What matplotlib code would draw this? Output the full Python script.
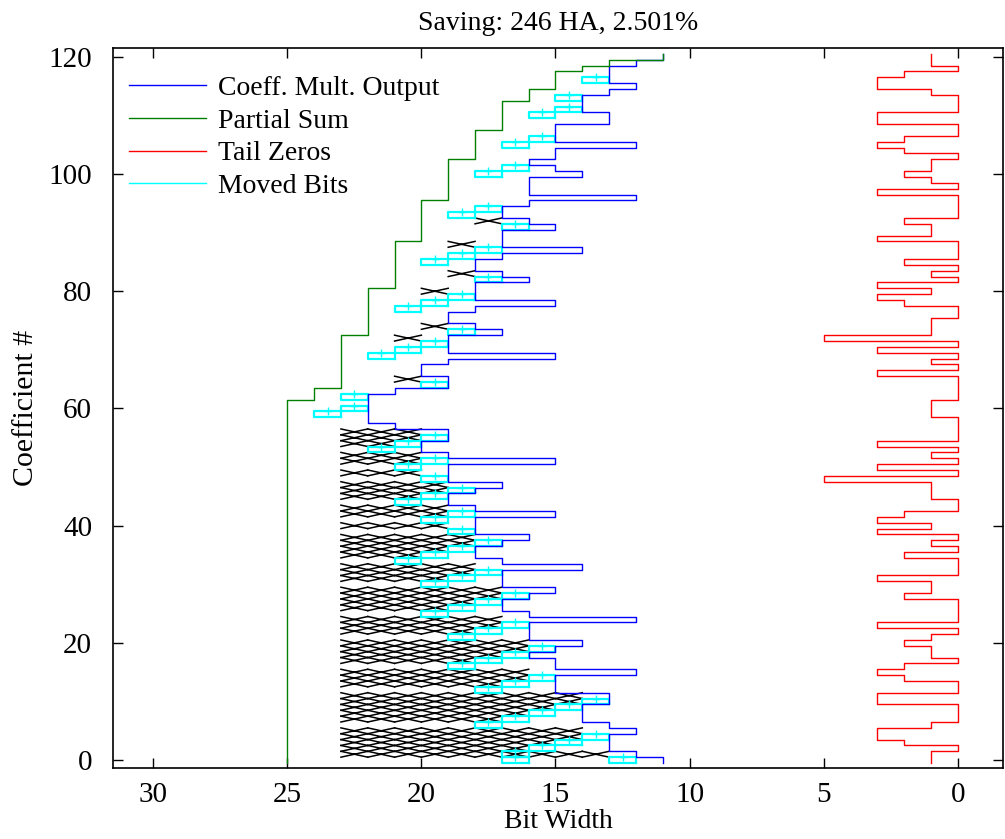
import numpy as np
import matplotlib
matplotlib.use("Agg")
import matplotlib.pyplot as plt
from matplotlib.lines import Line2D

# ---------------- data ----------------
coef = list(range(121))

tail_zeros = [1, 1, 0, 2, 3, 3, 1, 0, 0, 0,
              3, 3, 0, 0, 2, 3, 2, 0, 1, 1,
              2, 1, 0, 3, 0, 0, 0, 0, 2, 1,
              1, 3, 0, 0, 0, 2, 0, 1, 0, 3,
              1, 3, 2, 0, 0, 1, 1, 1, 5, 0,
              3, 0, 1, 0, 3, 0, 0, 0, 0, 1,
              1, 1, 0, 0, 0, 0, 3, 0, 1, 0,
              3, 0, 5, 1, 1, 1, 0, 0, 2, 3,
              1, 3, 0, 1, 0, 2, 0, 0, 0, 3,
              1, 1, 2, 0, 0, 0, 0, 3, 0, 1,
              2, 1, 1, 0, 2, 3, 2, 0, 0, 3,
              3, 0, 0, 0, 1, 3, 3, 2, 0, 1,
              1]

mult_width = [11, 12, 13, 13, 13, 12, 13, 14, 14, 14,
              13, 13, 15, 15, 15, 12, 15, 15, 16, 15,
              14, 16, 16, 16, 12, 16, 17, 17, 16, 15,
              17, 17, 17, 14, 17, 18, 18, 17, 16, 18,
              18, 18, 15, 18, 19, 19, 18, 17, 19, 19,
              19, 15, 19, 20, 20, 19, 19, 21, 22, 22,
              22, 22, 22, 21, 19, 19, 20, 20, 19, 15,
              19, 19, 19, 17, 18, 19, 19, 18, 15, 18,
              18, 18, 16, 17, 18, 18, 17, 14, 17, 17,
              17, 15, 16, 17, 17, 16, 12, 16, 16, 16,
              14, 15, 16, 15, 15, 12, 15, 15, 15, 13,
              13, 14, 14, 14, 13, 12, 13, 13, 13, 12,
              11]

partial_sum = [25] * 62 + [24, 24] + [23] * 9 + [22] * 8 + [21] * 8 + \
              [20] * 7 + [19] * 7 + [18] * 5 + [17] * 5 + [16] * 2 + \
              [15] * 3 + [14, 13, 11]

# moved bits: (coefficient row, bit position)
moved_k = [116, 113, 111, 110, 106, 105, 101, 100, 94, 93, 91, 87, 86, 85, 82,
           79, 78, 77, 73, 71, 70, 69, 64, 62, 60, 59,
           55, 54, 53, 51, 50, 48, 46, 45, 44, 42, 41, 39, 37, 36, 35, 34,
           32, 31, 30, 28, 27, 26, 25, 23, 22, 21, 19, 18, 17, 16, 14, 13, 12,
           10, 9, 8, 7, 6, 4, 3, 2, 1, 0, 0]
moved_b = [13, 14, 14, 15, 15, 16, 16, 17, 17, 18, 16, 17, 18, 19, 17,
           18, 19, 20, 18, 19, 20, 21, 19, 22, 22, 23,
           19, 20, 21, 19, 20, 19, 18, 19, 20, 18, 19, 18, 17, 18, 19, 20,
           17, 18, 19, 16, 17, 18, 19, 16, 17, 18, 15, 16, 17, 18, 15, 16, 17,
           13, 14, 15, 16, 17, 13, 14, 15, 16, 16, 12]

# single crossings in the upper half
cross_k = [92, 88, 83, 80, 74, 72, 65]
cross_b = [17, 18, 18, 19, 19, 20, 20]

# crossing lattice in the lower half: row -> lowest bit cell (crossings up to bit 23)
lattice_k = [1, 2, 3, 4, 5, 7, 8, 9, 10, 11, 13, 14, 15, 17, 18, 19, 20,
             22, 23, 24, 26, 27, 28, 29, 31, 32, 33, 35, 36, 37, 38, 40,
             42, 43, 45, 46, 47, 49, 51, 52, 54, 55, 56]
lattice_lo = [13, 16, 15, 14, 14, 17, 16, 15, 14, 14, 17, 16, 16, 18, 17, 16, 16,
              18, 17, 17, 19, 18, 17, 17, 19, 18, 18, 20, 19, 18, 18, 19,
              19, 19, 20, 19, 19, 20, 20, 20, 21, 20, 20]
lattice_top = 23

# ---------------- figure ----------------
plt.rcParams["font.family"] = ["Liberation Serif", "DejaVu Serif"]
fig = plt.figure(figsize=(10.05, 8.39), dpi=100)
ax = fig.add_axes([0.1124, 0.0846, 0.886, 0.8582])

LW = 1.0


def stairs_path(vals, ks):
    xs, ys = [], []
    for k, v in zip(ks, vals):
        xs += [v, v]
        ys += [k - 0.5, k + 0.5]
    return xs, ys


def cross(k, b):
    return ([b, b + 1, np.nan, b, b + 1],
            [k - 0.5, k + 0.5, np.nan, k + 0.5, k - 0.5])


# lattice of crossings
for k, lo in zip(lattice_k, lattice_lo):
    for b in range(lo, lattice_top):
        cx, cy = cross(k, b)
        ax.plot(cx, cy, color="black", lw=LW * 1.1)
for k, b in zip(cross_k, cross_b):
    cx, cy = cross(k, b)
    ax.plot(cx, cy, color="black", lw=LW * 1.1)

# moved bits boxes
for k, b in zip(moved_k, moved_b):
    ax.plot([b, b + 1, b + 1, b, b], [k - 0.5, k - 0.5, k + 0.5, k + 0.5, k - 0.5],
            color="cyan", lw=LW * 1.6)
ax.plot(np.array(moved_b) + 0.5, np.array(moved_k) + 0.5, "+", color="cyan",
        ms=6, mew=1.0, linestyle="none")

x, y = stairs_path(mult_width, coef)
ax.plot(x, y, color="blue", lw=LW)
x, y = stairs_path(partial_sum, coef)
ax.plot(x, y, color="green", lw=LW)
x, y = stairs_path(tail_zeros, coef)
ax.plot(x, y, color="red", lw=LW)

ax.set_xlim(31.5, -1.7)
ax.set_ylim(-1.35, 121.5)
ax.set_xticks([30, 25, 20, 15, 10, 5, 0])
ax.set_yticks([0, 20, 40, 60, 80, 100, 120])
ax.tick_params(direction="in", length=7, width=1, top=True, right=True,
               labelsize=21)
ax.tick_params(axis="x", pad=10)
ax.tick_params(axis="y", pad=15)
for s in ax.spines.values():
    s.set_linewidth(1.2)

ax.set_xlabel("Bit Width", fontsize=20, labelpad=1)
ax.set_ylabel("Coefficient #", fontsize=21.5, labelpad=7)
ax.set_title("Saving: 246 HA, 2.501%", fontsize=20, pad=13)

handles = [Line2D([], [], color="blue", lw=LW),
           Line2D([], [], color="green", lw=LW),
           Line2D([], [], color="red", lw=LW),
           Line2D([], [], color="cyan", lw=LW)]
labels = ["Coeff. Mult. Output", "Partial Sum", "Tail Zeros", "Moved Bits"]
ax.legend(handles, labels, loc="upper left", frameon=False, fontsize=20,
          handlelength=2.75, handletextpad=0.45, labelspacing=0.26,
          borderaxespad=0.0, bbox_to_anchor=(0.006, 0.977))

fig.savefig("out.png", dpi=100)
